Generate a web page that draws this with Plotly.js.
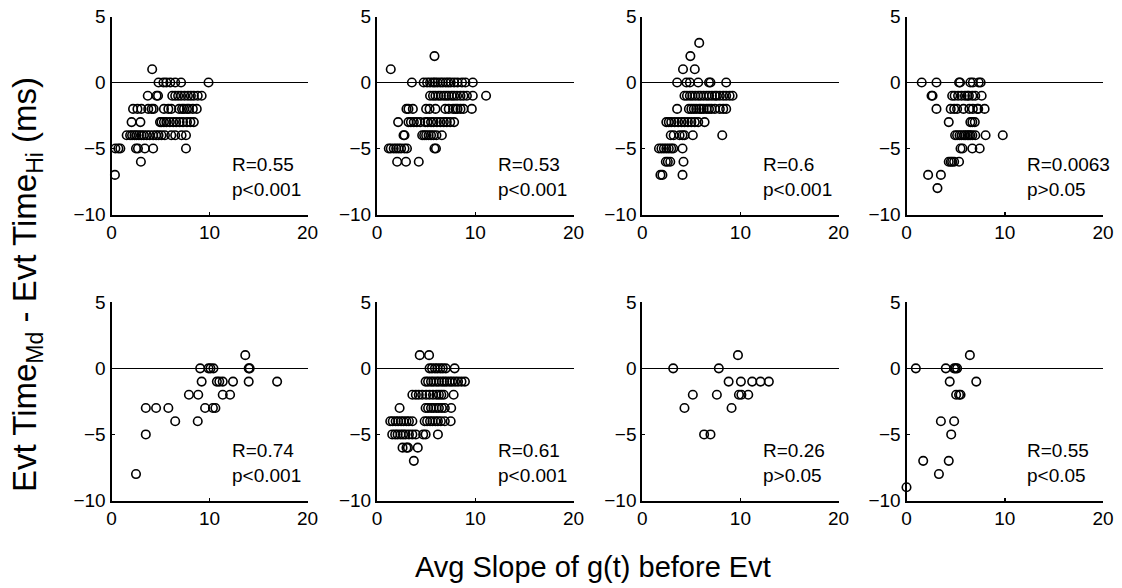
<!DOCTYPE html>
<html>
<head>
<meta charset="utf-8">
<script src="https://cdn.plot.ly/plotly-3.0.1.min.js"></script>
<style>html,body{margin:0;padding:0;background:#fff;}#chart{width:1122px;height:588px;}</style>
</head>
<body>
<div id="chart"></div>
<script>
// ---- data ----
const p1x = [4.15, 4.8,5.3,5.6,6.0,6.5,7.1,9.9,
  3.7,4.6,4.75,6.2,6.5,6.8,7.1,7.45,7.8,8.1,8.4,8.8,9.2,
  2.2,2.65,3.05,3.75,4.1,4.3,5.35,5.8,6.1,6.9,7.2,7.4,7.7,7.9,8.3,8.7,
  2.05,2.95,4.95,5.1,5.35,5.6,5.95,6.3,6.6,6.95,7.3,7.7,8.05,8.4,
  1.55,1.9,2.1,2.35,2.55,2.8,3.05,3.3,3.6,3.9,4.25,4.55,4.8,5.1,5.45,6.1,6.5,7.15,7.6,
  0.4,0.7,0.9,2.5,2.7,3.4,4.25,7.6,
  3.0, 0.35];
const p1y = [1, 0,0,0,0,0,0,0,
  -1,-1,-1,-1,-1,-1,-1,-1,-1,-1,-1,-1,-1,
  -2,-2,-2,-2,-2,-2,-2,-2,-2,-2,-2,-2,-2,-2,-2,-2,
  -3,-3,-3,-3,-3,-3,-3,-3,-3,-3,-3,-3,-3,-3,
  -4,-4,-4,-4,-4,-4,-4,-4,-4,-4,-4,-4,-4,-4,-4,-4,-4,-4,-4,
  -5,-5,-5,-5,-5,-5,-5,-5,
  -6, -7];

const p2x = [5.85, 1.4,
  3.55,4.75,5.1,5.4,5.7,5.9,6.15,6.45,6.7,7.0,7.25,7.5,7.85,8.2,8.65,9.0,9.75,
  5.4,5.7,5.95,6.25,6.5,6.8,7.05,7.3,7.6,7.85,8.15,8.5,8.8,9.15,9.75,11.1,
  3.0,3.2,3.65,5.0,5.35,5.95,6.95,7.3,7.75,8.0,8.2,8.5,8.8,9.65,
  2.15,3.2,3.45,3.75,4.05,4.4,4.9,5.15,5.5,5.75,6.1,6.45,6.8,7.1,7.45,7.85,
  2.7,2.8,4.6,4.8,5.0,5.25,5.5,5.75,6.05,6.6,
  1.2,1.4,1.7,1.95,2.2,2.45,2.8,3.05,5.85,6.0,
  2.05,2.95,4.25];
const p2y = [2, 1,
  0,0,0,0,0,0,0,0,0,0,0,0,0,0,0,0,0,
  -1,-1,-1,-1,-1,-1,-1,-1,-1,-1,-1,-1,-1,-1,-1,-1,
  -2,-2,-2,-2,-2,-2,-2,-2,-2,-2,-2,-2,-2,-2,
  -3,-3,-3,-3,-3,-3,-3,-3,-3,-3,-3,-3,-3,-3,-3,-3,
  -4,-4,-4,-4,-4,-4,-4,-4,-4,-4,
  -5,-5,-5,-5,-5,-5,-5,-5,-5,-5,
  -6,-6,-6];

const p3x = [5.8, 4.9, 4.15,5.35,
  3.55,4.5,4.85,5.7,6.8,6.95,8.55,
  4.3,4.55,4.85,5.1,5.4,5.7,5.95,6.25,6.55,6.8,7.1,7.4,7.6,7.9,8.25,8.55,8.9,9.2,
  3.55,4.75,5.0,5.25,5.5,5.8,6.0,6.25,6.55,6.8,7.05,7.4,7.9,8.25,8.55,
  2.45,2.7,2.95,3.3,3.65,4.0,4.3,4.65,5.0,5.35,5.7,6.35,
  2.9,3.2,3.8,4.1,4.3,5.15,8.15,
  1.7,1.95,2.2,2.45,2.7,2.95,3.15,4.1,
  2.4,2.6,2.85,4.2,
  1.85,2.05,4.1];
const p3y = [3, 2, 1,1,
  0,0,0,0,0,0,0,
  -1,-1,-1,-1,-1,-1,-1,-1,-1,-1,-1,-1,-1,-1,-1,-1,-1,-1,
  -2,-2,-2,-2,-2,-2,-2,-2,-2,-2,-2,-2,-2,-2,-2,
  -3,-3,-3,-3,-3,-3,-3,-3,-3,-3,-3,-3,
  -4,-4,-4,-4,-4,-4,-4,
  -5,-5,-5,-5,-5,-5,-5,-5,
  -6,-6,-6,-6,
  -7,-7,-7];

const p4x = [1.55,3.05,5.35,5.45,6.5,6.75,7.35,7.55,
  2.55,2.65,4.65,4.9,5.25,5.6,5.95,6.2,6.35,6.7,7.0,7.65,
  3.05,4.5,4.85,5.15,5.8,6.4,6.75,7.2,7.3,7.95,
  4.3,6.5,6.7,6.95,
  4.95,5.15,5.4,5.6,5.85,6.0,6.2,6.35,6.5,6.7,7.0,8.05,9.8,
  5.5,5.7,6.7,7.45,
  4.3,4.5,4.65,4.85,5.35,
  2.2,3.5,
  3.15];
const p4y = [0,0,0,0,0,0,0,0,
  -1,-1,-1,-1,-1,-1,-1,-1,-1,-1,-1,-1,
  -2,-2,-2,-2,-2,-2,-2,-2,-2,-2,
  -3,-3,-3,-3,
  -4,-4,-4,-4,-4,-4,-4,-4,-4,-4,-4,-4,-4,
  -5,-5,-5,-5,
  -6,-6,-6,-6,-6,
  -7,-7,
  -8];

const p5x = [13.65,
  9.05,9.9,10.1,10.4,14.0,14.1,
  9.2,10.75,11.0,11.35,12.4,14.0,16.9,
  7.9,8.85,11.35,12.1,
  3.5,4.55,5.8,9.55,10.35,10.6,
  6.5,8.8,
  3.5,
  2.5];
const p5y = [1,
  0,0,0,0,0,0,
  -1,-1,-1,-1,-1,-1,-1,
  -2,-2,-2,-2,
  -3,-3,-3,-3,-3,-3,
  -4,-4,
  -5,
  -8];

const p6x = [4.35,5.3,
  5.35,5.6,5.9,6.15,6.45,6.7,7.0,7.9,
  4.95,5.2,5.5,5.75,6.05,6.3,6.6,6.85,7.1,7.4,7.65,7.95,8.25,8.6,8.95,
  3.6,3.95,4.25,4.6,5.0,5.35,5.7,6.05,6.3,6.55,6.8,7.8,
  2.3,4.95,5.2,5.5,5.75,6.05,6.3,6.6,6.9,7.55,
  1.35,1.6,1.9,2.15,2.45,2.7,3.0,3.25,3.6,4.85,5.1,5.4,5.65,5.95,6.2,6.5,6.9,7.5,
  1.55,1.85,2.1,2.4,2.65,2.9,3.25,3.6,3.95,4.7,4.95,6.2,
  2.6,3.0,3.15,4.15,
  3.75];
const p6y = [1,1,
  0,0,0,0,0,0,0,0,
  -1,-1,-1,-1,-1,-1,-1,-1,-1,-1,-1,-1,-1,-1,-1,
  -2,-2,-2,-2,-2,-2,-2,-2,-2,-2,-2,-2,
  -3,-3,-3,-3,-3,-3,-3,-3,-3,-3,
  -4,-4,-4,-4,-4,-4,-4,-4,-4,-4,-4,-4,-4,-4,-4,-4,-4,-4,
  -5,-5,-5,-5,-5,-5,-5,-5,-5,-5,-5,-5,
  -6,-6,-6,-6,
  -7];

const p7x = [9.75, 3.15,7.8, 8.8,10.05,11.2,12.05,12.9, 5.15,7.6,9.85,10.1,10.8, 4.3,9.1, 6.3,6.95];
const p7y = [1, 0,0, -1,-1,-1,-1,-1, -2,-2,-2,-2,-2, -3,-3, -5,-5];

const p8x = [6.45, 0.95,4.0,4.85,5.0,5.15, 4.4,7.1, 5.05,5.35,5.5, 3.5,4.85, 4.55, 1.7,4.3, 3.3, 0.0];
const p8y = [1, 0,0,0,0,0, -1,-1, -2,-2,-2, -4,-4, -5, -7,-7, -8, -9];

const rLabels = ["R=0.55", "R=0.53", "R=0.6", "R=0.0063", "R=0.74", "R=0.61", "R=0.26", "R=0.55"];
const pLabels = ["p&lt;0.001", "p&lt;0.001", "p&lt;0.001", "p&gt;0.05", "p&lt;0.001", "p&lt;0.001", "p&gt;0.05", "p&lt;0.05"];

const xTicks = [0, 10, 20];
const yTicks = [-10, -5, 0, 5];
const xRange = [0, 20];
const yRange = [-10, 5];

const yTitle = "Evt Time<sub>Md</sub> - Evt Time<sub>Hi</sub> (ms)";
const xTitle = "Avg Slope of g(t) before Evt";

// ---- layout ----
const W = 1122, H = 588;
const panelsX = [[111.5, 307.5], [377, 573.5], [642.3, 838.5], [906.5, 1103]];
const panelsY = [[16.5, 214.5], [302.3, 500.5]];
const FONT = "Liberation Sans, Arial, sans-serif";

const xs = [p1x, p2x, p3x, p4x, p5x, p6x, p7x, p8x];
const ys = [p1y, p2y, p3y, p4y, p5y, p6y, p7y, p8y];

const traces = [];
const layout = {
  width: W, height: H,
  margin: {l: 0, r: 0, t: 0, b: 0},
  paper_bgcolor: "#fff", plot_bgcolor: "#fff",
  showlegend: false,
  font: {family: FONT, color: "#000", size: 19},
  annotations: []
};

for (let i = 0; i < 8; i++) {
  const row = Math.floor(i / 4), col = i % 4;
  const n = i + 1;
  const xa = "xaxis" + (n === 1 ? "" : n);
  const ya = "yaxis" + (n === 1 ? "" : n);
  const xr = "x" + (n === 1 ? "" : n);
  const yr = "y" + (n === 1 ? "" : n);
  traces.push({
    type: "scatter", mode: "markers",
    x: xs[i], y: ys[i], xaxis: xr, yaxis: yr,
    cliponaxis: false,
    marker: {symbol: "circle-open", size: 8.5, color: "#000", line: {width: 1.6, color: "#000"}},
    hoverinfo: "skip"
  });
  layout[xa] = {
    domain: [panelsX[col][0] / W, panelsX[col][1] / W],
    anchor: yr, range: xRange, tickvals: xTicks,
    showgrid: false, zeroline: false,
    showline: true, linecolor: "#000", linewidth: 2,
    ticks: "inside", ticklen: 3, tickwidth: 1.5, tickcolor: "#000",
    tickfont: {family: FONT, size: 19, color: "#000"}
  };
  layout[ya] = {
    domain: [1 - panelsY[row][1] / H, 1 - panelsY[row][0] / H],
    anchor: xr, range: yRange, tickvals: yTicks,
    showgrid: false, zeroline: true, zerolinecolor: "#000", zerolinewidth: 1,
    showline: true, linecolor: "#000", linewidth: 2,
    ticks: "inside", ticklen: 3, tickwidth: 1.5, tickcolor: "#000",
    tickfont: {family: FONT, size: 19, color: "#000"}
  };
  layout.annotations.push({
    xref: xr, yref: yr, x: 12.1, y: -7.15,
    xanchor: "left", yanchor: "middle", align: "left",
    text: rLabels[i] + "<br>" + pLabels[i],
    showarrow: false,
    font: {family: FONT, size: 19, color: "#000"}
  });
}

layout.annotations.push({
  xref: "paper", yref: "paper", x: 27 / W, y: 1 - 285 / H,
  xanchor: "center", yanchor: "middle", textangle: -90,
  text: yTitle, showarrow: false,
  font: {family: FONT, size: 33, color: "#000"}
});
layout.annotations.push({
  xref: "paper", yref: "paper", x: 593 / W, y: 1 - 567 / H,
  xanchor: "center", yanchor: "middle",
  text: xTitle, showarrow: false,
  font: {family: FONT, size: 29, color: "#000"}
});

Plotly.newPlot("chart", traces, layout, {staticPlot: true, displayModeBar: false});
</script>
</body>
</html>
